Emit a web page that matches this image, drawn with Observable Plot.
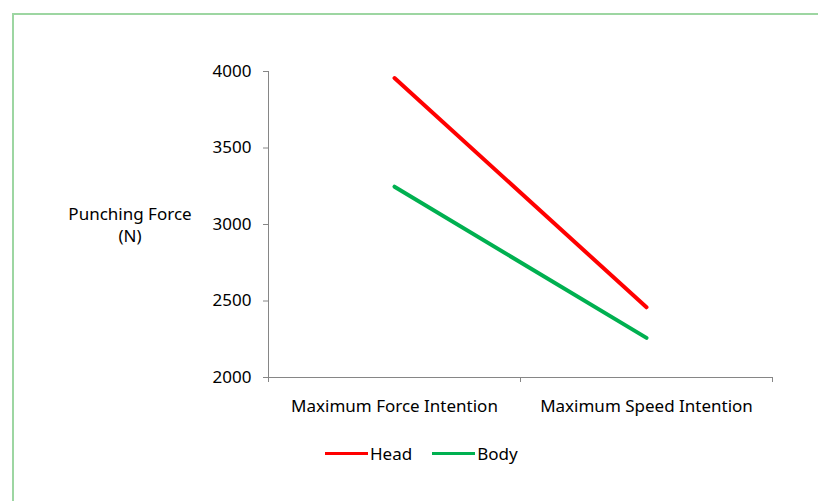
<!DOCTYPE html>
<html><head><meta charset="utf-8">
<script src="https://cdn.jsdelivr.net/npm/d3@7"></script>
<script src="https://cdn.jsdelivr.net/npm/@observablehq/plot@0.6"></script>
<style>
html,body{margin:0;padding:0;background:#fff;}
#wrap{position:relative;width:818px;height:501px;overflow:hidden;font-family:"Noto Sans",sans-serif;}
#frame{position:absolute;left:12px;top:13px;width:900px;height:600px;border:2px solid #9dd6a2;box-sizing:border-box;}
#chart{position:absolute;left:0;top:0;}
#ylab{position:absolute;left:50px;width:160px;top:203px;text-align:center;font-size:17px;line-height:22px;color:#000;}
#legend{position:absolute;left:325px;top:442px;display:flex;align-items:center;font-size:17px;color:#000;}
.sw{display:inline-block;width:43px;height:3px;margin-right:2px;}
.it{display:flex;align-items:center;margin-right:20px;}
</style>
</head><body>
<div id="wrap">
<div id="frame"></div>
<div id="chart"></div>
<div id="ylab">Punching Force<br>(N)</div>
<div id="legend"></div>
</div>
<script>
const categories = ["Maximum Force Intention", "Maximum Speed Intention"];
const headValues = [3957, 2459];
const bodyValues = [3247, 2259];
const yTicks = [2000, 2500, 3000, 3500, 4000];
const seriesNames = ["Head", "Body"];
const seriesColors = ["#ff0000", "#00b050"];

const data = [];
categories.forEach((c, i) => {
  data.push({series: "Head", cat: c, i: i + 0.5, value: headValues[i]});
  data.push({series: "Body", cat: c, i: i + 0.5, value: bodyValues[i]});
});

const plot = Plot.plot({
  width: 818,
  height: 430,
  marginLeft: 268,
  marginRight: 46,
  marginTop: 71,
  marginBottom: 53,
  style: {fontFamily: "Noto Sans, sans-serif", fontSize: "17px", color: "#000", background: "transparent"},
  x: {type: "linear", domain: [0, categories.length]},
  y: {domain: [2000, 4000]},
  color: {domain: seriesNames, range: seriesColors},
  marks: [
    Plot.ruleY([2000], {stroke: "#868686", strokeWidth: 1}),
    Plot.ruleX([0], {stroke: "#868686", strokeWidth: 1}),
    Plot.axisY({ticks: yTicks, tickSize: 5, tickPadding: 12, tickFormat: d => String(d), label: null, stroke: "#868686", color: "#000", fontSize: 17}),
    Plot.axisX({ticks: d3.range(categories.length + 1), tickSize: 5, tickFormat: () => "", label: null, stroke: "#868686"}),
    Plot.axisX({ticks: categories.map((c, i) => i + 0.5), tickSize: 0, tickPadding: 22, tickFormat: d => categories[Math.floor(d)], label: null, fontSize: 17, color: "#000"}),
    Plot.line(data, {x: "i", y: "value", z: "series", stroke: "series", strokeWidth: 4, strokeLinecap: "round"})
  ]
});
document.getElementById("chart").appendChild(plot);

const leg = document.getElementById("legend");
seriesNames.forEach((n, k) => {
  const it = document.createElement("div");
  it.className = "it";
  it.innerHTML = `<span class="sw" style="background:${seriesColors[k]}"></span><span>${n}</span>`;
  leg.appendChild(it);
});
</script>
</body></html>
